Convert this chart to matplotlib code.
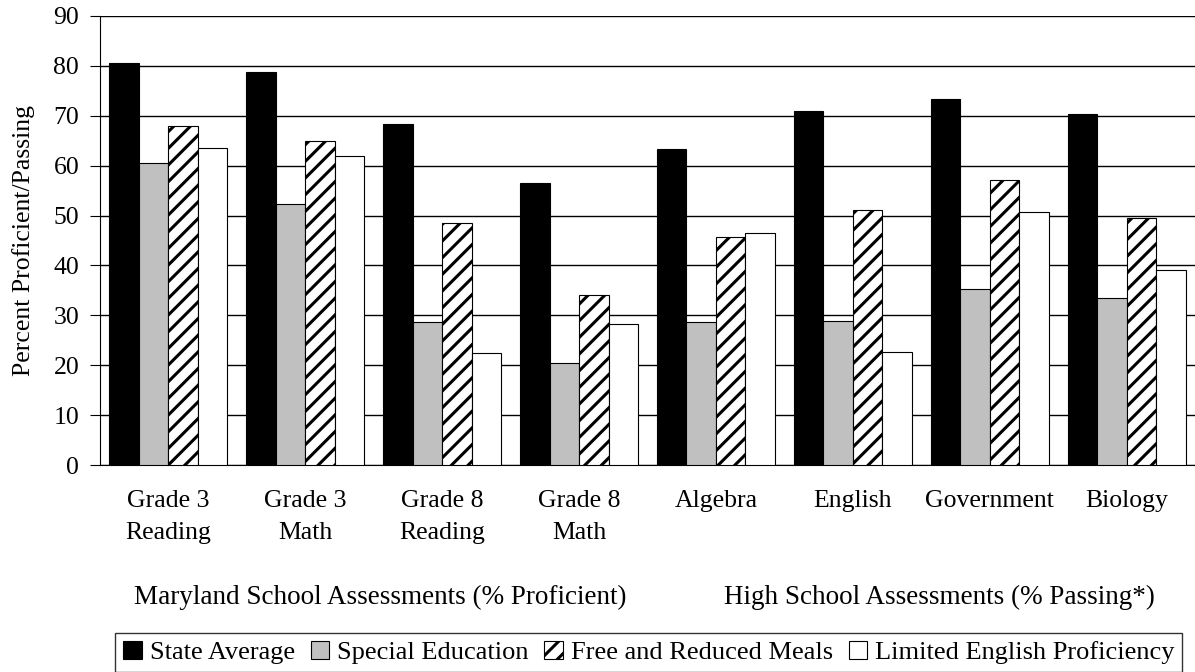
import numpy as np
import matplotlib.pyplot as plt
import matplotlib.transforms as mtransforms

plt.rcParams['font.family'] = ['Liberation Serif', 'DejaVu Serif']
plt.rcParams['hatch.linewidth'] = 2.2

categories = ['Grade 3\nReading', 'Grade 3\nMath', 'Grade 8\nReading', 'Grade 8\nMath',
              'Algebra', 'English', 'Government', 'Biology']
state_avg = [80.6, 78.7, 68.4, 56.6, 63.4, 70.9, 73.4, 70.3]
special_ed = [60.5, 52.4, 28.7, 20.5, 28.7, 28.9, 35.3, 33.4]
farms = [68.0, 64.9, 48.6, 34.0, 45.8, 51.2, 57.2, 49.6]
lep = [63.6, 62.0, 22.4, 28.3, 46.5, 22.7, 50.8, 39.0]
series_names = ['State Average', 'Special Education', 'Free and Reduced Meals',
                'Limited English Proficiency']
group_labels = ['Maryland School Assessments (% Proficient)',
                'High School Assessments (% Passing*)']

fig = plt.figure(figsize=(11.95, 6.72), dpi=100)
ax = fig.add_axes([100/1195, 1-465/672, 1095/1195, 449/672])

x = np.arange(len(categories))
w = 0.2155
styles = [dict(color='black', edgecolor='black'),
          dict(color='#c0c0c0', edgecolor='black'),
          dict(color='white', edgecolor='black', hatch='//'),
          dict(color='white', edgecolor='black')]
data = [state_avg, special_ed, farms, lep]
for i in range(4):
    ax.bar(x + (i - 1.5)*w, data[i], w, label=series_names[i], linewidth=0.8,
           zorder=3, **styles[i])

ax.set_xlim(-0.5, len(categories) - 0.5)
ax.set_ylim(0, 90)
ax.set_yticks(range(0, 91, 10))
ax.yaxis.grid(True, color='black', linewidth=1)
ax.set_axisbelow(True)
ax.spines['top'].set_visible(False)
ax.spines['right'].set_visible(False)
ax.set_xticks(x)
ax.set_xticklabels(categories, fontsize=18.5, linespacing=1.6)
ax.tick_params(axis='x', length=0, pad=18)
ax.tick_params(axis='y', length=7, direction='out', labelsize=18.5, pad=8)
ax.set_ylabel('Percent Proficient/Passing', fontsize=18.5, labelpad=13)

trans = mtransforms.blended_transform_factory(ax.transData, fig.transFigure)
ax.text(1.55, 1-597/672, group_labels[0], transform=trans, ha='center', va='center', fontsize=19.5)
ax.text(5.63, 1-597/672, group_labels[1], transform=trans, ha='center', va='center', fontsize=19.5)

leg = fig.legend(loc='upper center', bbox_to_anchor=(0.543, 1-633/672), ncol=4,
                 fontsize=19, frameon=True, fancybox=False, edgecolor='black',
                 handlelength=0.7, handleheight=0.7, handletextpad=0.3,
                 columnspacing=0.6, borderpad=0.3, borderaxespad=0)
leg.get_frame().set_linewidth(1)

fig.savefig('out.png', dpi=100)
